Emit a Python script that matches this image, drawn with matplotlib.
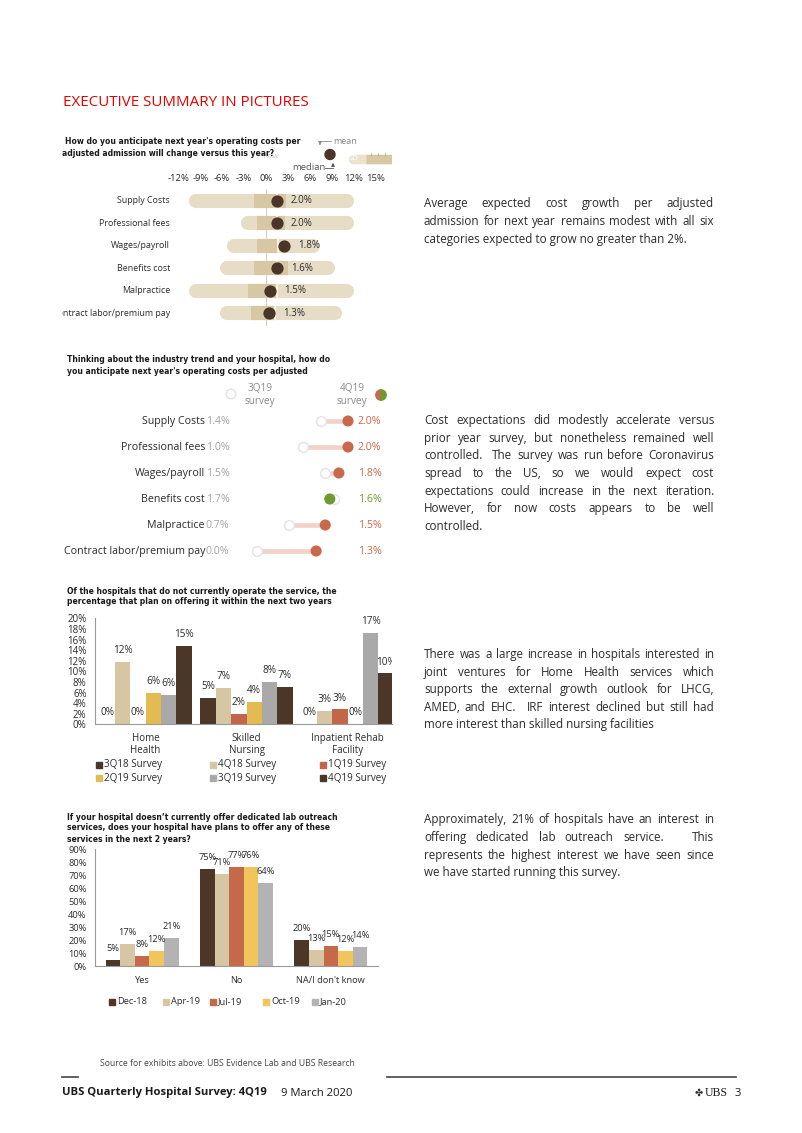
import re
import matplotlib
matplotlib.use('Agg')
import matplotlib.pyplot as plt
import numpy as np
from matplotlib.patches import Rectangle, Wedge, Circle
from matplotlib.transforms import blended_transform_factory as btf

plt.rcParams['font.family'] = ['Open Sans', 'DejaVu Sans']

# ---------------- data ----------------
# Chart 1: range bars
c1_cats = ['Supply Costs', 'Professional fees', 'Wages/payroll', 'Benefits cost',
           'Malpractice', 'Contract labor/premium pay']
c1_low = [-9.6, -2.4, -4.4, -5.4, -9.6, -5.4]
c1_high = [11.1, 11.1, 6.5, 8.5, 11.1, 9.5]
c1_q1 = [-1.6, -1.3, -1.2, -1.7, -2.4, -2.1]
c1_q3 = [2.8, 2.6, 1.7, 3.0, 1.5, 1.2]
c1_median = [1.5, 1.5, 1.7, 1.5, 1.5, 1.2]
c1_mean_pos = [1.5, 1.5, 2.5, 1.5, 0.55, 0.45]
c1_mean_label = ['2.0%', '2.0%', '1.8%', '1.6%', '1.5%', '1.3%']
c1_ticks = [-12, -9, -6, -3, 0, 3, 6, 9, 12, 15]

# Chart 2: dumbbell 3Q19 vs 4Q19
c2_cats = c1_cats
c2_prev = [1.4, 1.0, 1.5, 1.7, 0.7, 0.0]
c2_curr = [2.0, 2.0, 1.8, 1.6, 1.5, 1.3]

# Chart 3: grouped bars
c3_cats = ['Home\nHealth', 'Skilled\nNursing', 'Inpatient Rehab\nFacility']
c3_series = ['3Q18 Survey', '4Q18 Survey', '1Q19 Survey',
             '2Q19 Survey', '3Q19 Survey', '4Q19 Survey']
c3_3Q18 = [0.0, 4.9, 0.0]
c3_4Q18 = [11.7, 6.9, 2.6]
c3_1Q19 = [0.0, 1.95, 2.8]
c3_2Q19 = [6.0, 4.3, 0.0]
c3_3Q19 = [5.6, 8.05, 17.2]
c3_4Q19 = [14.8, 7.1, 9.6]
c3_colors = ['#4b3627', '#d7c6a4', '#c2664a', '#e4bb53', '#a9a9a9', '#4b3627']
c3_yticks = [0, 2, 4, 6, 8, 10, 12, 14, 16, 18, 20]

# Chart 4: grouped bars
c4_cats = ['Yes', 'No', "NA/I don't know"]
c4_series = ['Dec-18', 'Apr-19', 'Jul-19', 'Oct-19', 'Jan-20']
c4_dec18 = [4.9, 74.8, 19.8]
c4_apr19 = [16.7, 70.7, 12.6]
c4_jul19 = [7.7, 76.6, 15.4]
c4_oct19 = [11.6, 76.1, 11.6]
c4_jan20 = [21.4, 64.3, 14.4]
c4_colors = ['#4b3627', '#d7c6a4', '#c5694b', '#f1c55c', '#b3b3b3']
c4_yticks = [0, 10, 20, 30, 40, 50, 60, 70, 80, 90]

# ---------------- figure ----------------
W, H = 802, 1133
fig = plt.figure(figsize=(W / 100, H / 100), dpi=100)
bg = fig.add_axes([0, 0, 1, 1])
bg.set_xlim(0, W)
bg.set_ylim(H, 0)
bg.axis('off')
bg.set_zorder(0)

TXT = '#2b2b2b'


def pax(l, t, r, b):
    ax = fig.add_axes([l / W, 1 - b / H, (r - l) / W, (b - t) / H])
    ax.patch.set_alpha(0)
    ax.set_zorder(2)
    return ax


def T(x, y, s, **kw):
    kw.setdefault('va', 'center')
    kw.setdefault('color', TXT)
    return bg.text(x, y, s, **kw)


renderer = fig.canvas.get_renderer()


def para(lines, x0, x1, y0, dy, size=8.4):
    base_off = size * 100 / 72 * 0.36
    for k, line in enumerate(lines):
        yy = y0 + k * dy + base_off
        if k == len(lines) - 1:
            T(x0, yy, line, fontsize=size, ha='left', va='baseline')
            continue
        parts = re.split(r'( +)', line)
        words = parts[0::2]
        spaces = [len(s) for s in parts[1::2]]
        ts = [T(0, yy, w, fontsize=size, ha='left', va='baseline') for w in words]
        ws = [t.get_window_extent(renderer).width for t in ts]
        unit = (x1 - x0 - sum(ws)) / max(sum(spaces), 1)
        x = x0
        for i, (t, w) in enumerate(zip(ts, ws)):
            t.set_x(x)
            x += w
            if i < len(spaces):
                x += unit * spaces[i]


# ---------------- header ----------------
T(63, 103, 'EXECUTIVE SUMMARY IN PICTURES', fontsize=10.9, color='#e60000')

BOLD = dict(fontsize=5.5, fontweight='bold', family='DejaVu Sans', color='#1a1a1a')

# ---------------- chart 1 ----------------
T(262, 156, 'Row', fontsize=6, color='#c8c8c8')
T(65, 142, "How do you anticipate next year's operating costs per", **BOLD)
T(62, 153.5, 'adjusted admission will change versus this year?', **BOLD)

# legend of chart 1
T(333, 141, 'mean', fontsize=6.5, color='#8a8a8a')
bg.plot([320, 331], [141, 141], color='#8a8a8a', lw=0.6)
bg.annotate('', xy=(320, 148), xytext=(320, 141),
            arrowprops=dict(arrowstyle='-|>', color='#8a8a8a', lw=0.6, mutation_scale=5))
bg.add_patch(Circle((330, 154.5), 5, color='#4b3529'))
T(292, 168, 'median', fontsize=6.8, color='#555555')
bg.plot([325, 333], [168, 168], color='#555555', lw=0.6)
bg.annotate('', xy=(333, 160), xytext=(333, 168),
            arrowprops=dict(arrowstyle='-|>', color='#555555', lw=0.6, mutation_scale=5))
clip_r = Rectangle((0, 0), 392, H, transform=bg.transData)
l1, = bg.plot([353, 392], [158.5, 158.5], lw=6.8, color='#ece3cf', solid_capstyle='round')
l2, = bg.plot([366, 392], [158.5, 158.5], lw=6.8, color='#d8c7a3', solid_capstyle='butt')
l1.set_clip_path(clip_r)
l2.set_clip_path(clip_r)
T(349, 158, 'SD', fontsize=5.5, color='white')
for xx in (371, 378, 385):
    bg.plot([xx, xx], [153, 156], color='#b5a88c', lw=0.5)

ax1 = pax(62, 185, 392, 326)
ax1.set_xlim((62 - 266) / 7.3, (392 - 266) / 7.3)
ax1.set_ylim(5.556, -0.711)
for sp in ax1.spines.values():
    sp.set_visible(False)
ax1.set_yticks([])
ax1.xaxis.set_ticks_position('top')
ax1.set_xticks(c1_ticks)
ax1.set_xticklabels([f'{t}%' for t in c1_ticks])
ax1.tick_params(axis='x', length=0, pad=1.5, labelsize=6.8, labelcolor=TXT)
ax1.axvline(0, ymin=0.0, ymax=0.97, color='#c4c4c4', lw=0.6, zorder=1)
tr1 = btf(bg.transData, ax1.transData)
for i, cat in enumerate(c1_cats):
    ax1.plot([c1_low[i], c1_high[i]], [i, i], lw=10.2, color='#e7ddc6',
             solid_capstyle='round', zorder=2)
    ax1.plot([c1_q1[i], c1_q3[i]], [i, i], lw=10.2, color='#d8c7a3',
             solid_capstyle='butt', zorder=3)
    ax1.plot([c1_median[i], c1_median[i]], [i - 0.3, i + 0.3], lw=1.2,
             color='#fffaea', zorder=4)
    ax1.text(c1_mean_pos[i] + 1.9, i, c1_mean_label[i], ha='left', va='center',
             fontsize=7, color=TXT, zorder=6)
    ax1.text(170, i, cat, transform=tr1, ha='right', va='center', fontsize=6.4,
             color=TXT, clip_on=True)
ax1.scatter(c1_mean_pos, np.arange(len(c1_cats)), s=78, color='#4b3529', zorder=5,
            linewidths=0)

# ---------------- chart 2 ----------------
T(67, 360, 'Thinking about the industry trend and your hospital, how do', **BOLD)
T(67, 371, "you anticipate next year's operating costs per adjusted", **BOLD)
ORANGE, GREEN = '#c9694c', '#6e9b2f'
T(260, 395, '3Q19\nsurvey', fontsize=7.2, color='#8a8a8a', ha='center', linespacing=1.15)
T(352, 395, '4Q19\nsurvey', fontsize=7.2, color='#8a8a8a', ha='center', linespacing=1.15)
bg.add_patch(Circle((231, 394), 4.8, facecolor='white', edgecolor='#e3e3e3', lw=1))
bg.add_patch(Wedge((381, 395), 5.2, 90, 270, color=ORANGE))
bg.add_patch(Wedge((381, 395), 5.2, 270, 90, color=GREEN))

ax2 = pax(62, 408, 392, 564)
ax2.set_xlim((62 - 257) / 45.5, (392 - 257) / 45.5)
ax2.set_ylim(5.5, -0.5)
ax2.axis('off')
tr2 = btf(bg.transData, ax2.transData)
for i, cat in enumerate(c2_cats):
    ax2.plot([c2_prev[i], c2_curr[i]], [i, i], color='#f2d1c7', lw=3.3, zorder=1,
             solid_capstyle='butt')
    col = ORANGE if c2_curr[i] >= c2_prev[i] else GREEN
    ax2.text(205, i, cat, transform=tr2, ha='right', va='center', fontsize=7.7, color=TXT)
    ax2.text(206, i, f'{c2_prev[i]:.1f}%', transform=tr2, ha='left', va='center',
             fontsize=7.7, color='#a3a3a3')
    ax2.text(381.5, i, f'{c2_curr[i]:.1f}%', transform=tr2, ha='right', va='center',
             fontsize=7.7, color=col)
yy2 = np.arange(len(c2_cats))
ax2.scatter(c2_prev, yy2, s=50, facecolor='white', edgecolor='#e3e3e3', lw=1, zorder=2)
ax2.scatter(c2_curr, yy2, s=64, c=[ORANGE if c >= p else GREEN for c, p in zip(c2_curr, c2_prev)],
            zorder=3, linewidths=0)

# ---------------- chart 3 ----------------
T(67, 591, 'Of the hospitals that do not currently operate the service, the', **BOLD)
T(67, 602, 'percentage that plan on offering it within the next two years', **BOLD)
ax3 = pax(95, 610.4, 392, 724.3)
ax3.set_ylim(0, 21.5)
ax3.set_xlim(-0.5, -0.5 + 297 / 101)
c3_vals = [c3_3Q18, c3_4Q18, c3_1Q19, c3_2Q19, c3_3Q19, c3_4Q19]
x3 = np.arange(len(c3_cats))
bw3 = 0.152
for j, (vals, col) in enumerate(zip(c3_vals, c3_colors)):
    xs = x3 + (j - 2.5) * bw3
    ax3.bar(xs, vals, width=bw3, color=col, zorder=2)
    for xv, v in zip(xs, vals):
        ax3.annotate(f'{v:.0f}%', (xv, v), xytext=(0, 8.2), textcoords='offset points',
                     ha='center', va='center', fontsize=7.2, color=TXT, clip_on=True)
for sp in ('top', 'right'):
    ax3.spines[sp].set_visible(False)
ax3.spines['left'].set_bounds(0, 20)
for sp in ('left', 'bottom'):
    ax3.spines[sp].set_color('#9a9a9a')
    ax3.spines[sp].set_linewidth(0.8)
ax3.set_yticks(c3_yticks)
ax3.set_yticklabels([f'{v}%' for v in c3_yticks])
ax3.set_xticks(x3)
ax3.set_xticklabels(c3_cats, linespacing=1.2)
ax3.tick_params(axis='y', length=0, pad=6, labelsize=7, labelcolor=TXT)
ax3.tick_params(axis='x', length=0, pad=6, labelsize=7, labelcolor=TXT)

leg3_x = [99, 213.3, 323.3]
leg3_y = [765, 778.3]
for j, (name, col) in enumerate(zip(c3_series, c3_colors)):
    cx, cy = leg3_x[j % 3], leg3_y[j // 3]
    bg.add_patch(Rectangle((cx - 3, cy - 3), 6, 6, color=col))
    T(cx + 5, cy, name, fontsize=7.1, ha='left')

# ---------------- chart 4 ----------------
T(67, 817, 'If your hospital doesn\u2019t currently offer dedicated lab outreach', **BOLD)
T(67, 828, 'services, does your hospital have plans to offer any of these', **BOLD)
T(67, 839, 'services in the next 2 years?', **BOLD)
ax4 = pax(95, 842.8, 378, 966)
ax4.set_ylim(0, 95)
ax4.set_xlim(-0.5, 2.5)
c4_vals = [c4_dec18, c4_apr19, c4_jul19, c4_oct19, c4_jan20]
x4 = np.arange(len(c4_cats))
bw4 = 0.155
for j, (vals, col) in enumerate(zip(c4_vals, c4_colors)):
    xs = x4 + (j - 2) * bw4
    ax4.bar(xs, vals, width=bw4, color=col, zorder=2)
    for xv, v in zip(xs, vals):
        ax4.annotate(f'{v:.0f}%', (xv, v), xytext=(0, 8.2), textcoords='offset points',
                     ha='center', va='center', fontsize=6.7, color=TXT)
for sp in ('top', 'right'):
    ax4.spines[sp].set_visible(False)
ax4.spines['left'].set_bounds(0, 90)
for sp in ('left', 'bottom'):
    ax4.spines[sp].set_color('#9a9a9a')
    ax4.spines[sp].set_linewidth(0.8)
ax4.set_yticks(c4_yticks)
ax4.set_yticklabels([f'{v}%' for v in c4_yticks])
ax4.set_xticks(x4)
ax4.set_xticklabels(c4_cats)
ax4.tick_params(axis='y', length=0, pad=6, labelsize=6.7, labelcolor=TXT)
ax4.tick_params(axis='x', length=0, pad=7, labelsize=6.7, labelcolor=TXT)
leg4_x = [111.7, 166, 212.7, 266, 315]
for j, (name, col) in enumerate(zip(c4_series, c4_colors)):
    cx, cy = leg4_x[j], 1001.7
    bg.add_patch(Rectangle((cx - 3, cy - 3), 6, 6, color=col))
    T(cx + 5, cy, name, fontsize=6.7, ha='left')

# ---------------- commentary ----------------
para(['Average expected cost growth per adjusted',
      'admission for next year remains modest with all six',
      'categories expected to grow no greater than 2%.'], 424, 714, 203, 18)
para(['Cost expectations did modestly accelerate versus',
      'prior year survey, but nonetheless remained well',
      'controlled.  The survey was run before Coronavirus',
      'spread to the US, so we would expect cost',
      'expectations could increase in the next iteration.',
      'However, for now costs appears to be well',
      'controlled.'], 424, 714, 420, 17.6)
para(['There was a large increase in hospitals interested in',
      'joint ventures for Home Health services which',
      'supports the external growth outlook for LHCG,',
      'AMED, and EHC.  IRF interest declined but still had',
      'more interest than skilled nursing facilities'], 424, 714, 654, 17.5)
para(['Approximately, 21% of hospitals have an interest in',
      'offering dedicated lab outreach service.   This',
      'represents the highest interest we have seen since',
      'we have started running this survey.'], 424, 714, 819, 17.7)

# ---------------- footer ----------------
T(100, 1063, 'Source for exhibits above: UBS Evidence Lab and UBS Research', fontsize=6.2, color='#444444')
bg.plot([62, 78], [1077, 1077], color='#444444', lw=1.2)
bg.plot([387, 736], [1077, 1077], color='#444444', lw=1.2)
T(62, 1093, 'UBS Quarterly Hospital Survey: 4Q19', fontsize=8.1, fontweight='bold', color='#1a1a1a')
T(281, 1093, '9 March 2020', fontsize=8.1, color='#1a1a1a')
T(695, 1093, '\u2724', fontsize=7, family='DejaVu Sans', color='#333333')
T(705, 1093, 'UBS', fontsize=8.5, family='Liberation Serif', color='#1a1a1a')
T(735, 1093, '3', fontsize=8, color='#1a1a1a')

fig.savefig('out.png', dpi=100)
